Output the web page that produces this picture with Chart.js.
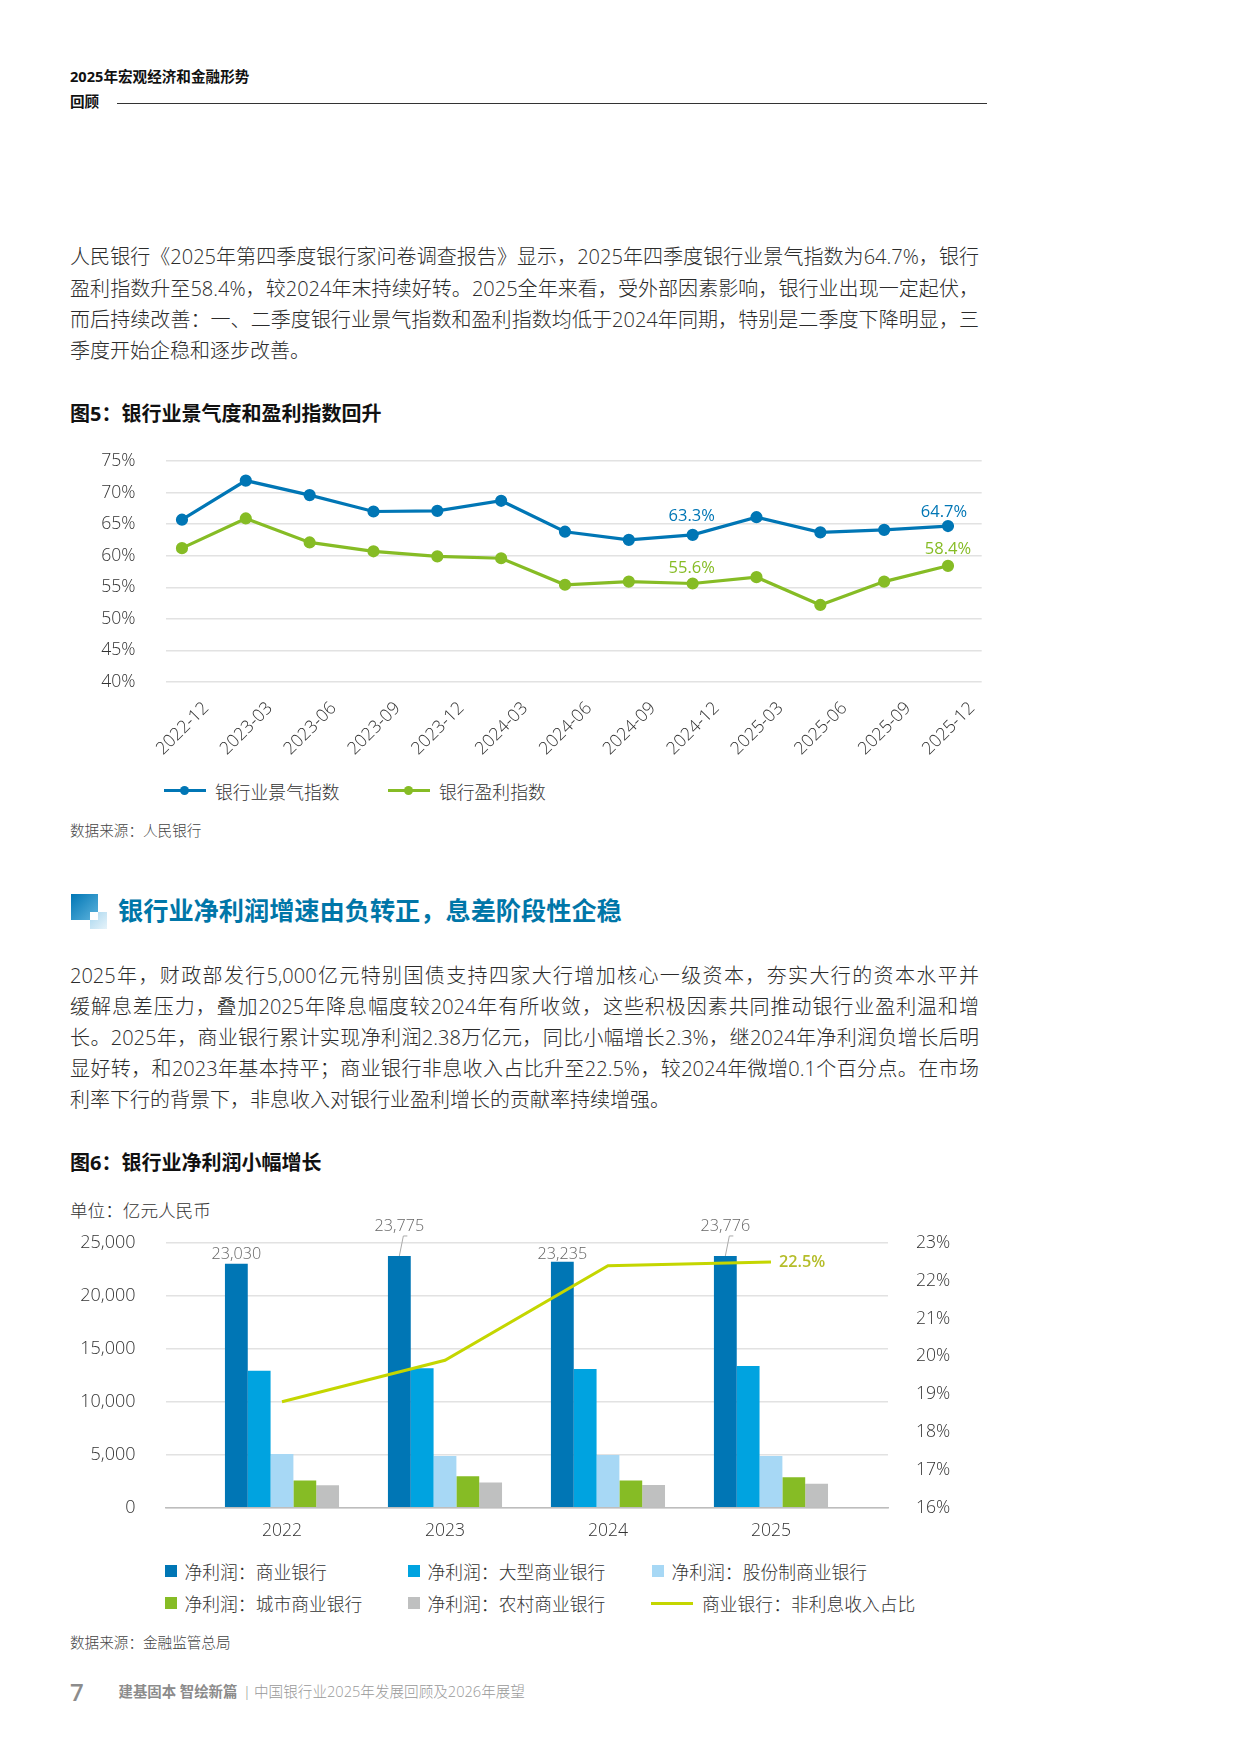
<!DOCTYPE html>
<html lang="zh-CN">
<head>
<meta charset="utf-8">
<title>银行业景气度和净利润</title>
<script src="https://cdn.jsdelivr.net/npm/chart.js@4/dist/chart.umd.js"></script>
<style>
  html, body { margin: 0; padding: 0; background: #fff; }
  body { position: relative; width: 1240px; height: 1753px; overflow: hidden; font-family: "Open Sans", "Noto Sans CJK SC", sans-serif; color: #333; }
  .t { position: absolute; left: 70px; transform: translateY(-50%); white-space: nowrap; line-height: 1.2; }
  .body { font-size: 20px; font-weight: 300; color: #2b2b2b; width: 909px; white-space: normal; text-align: justify; text-align-last: justify; }
  .body.last { text-align-last: left; }
  .fig { font-size: 20px; font-weight: 700; color: #111; }
  .src { font-size: 14.6px; font-weight: 300; color: #444; }
  canvas { position: absolute; left: 70px; }
  .legend { position: absolute; font-size: 17.8px; font-weight: 300; color: #333; }
  .item { position: absolute; display: flex; align-items: center; white-space: nowrap; transform: translateY(-50%); }
  .box { width: 12px; height: 12px; margin-right: 7.5px; }
  .ln { position: relative; width: 42px; height: 3px; margin-right: 9px; }
  .dot { position: absolute; left: 16px; top: -3px; width: 9px; height: 9px; border-radius: 50%; background: inherit; }
</style>
</head>
<body>
<div class="t" style="top:77px;font-size:14.6px;font-weight:700;color:#111">2025年宏观经济和金融形势</div>
<div class="t" style="top:102px;font-size:14.6px;font-weight:700;color:#111">回顾</div>
<div style="position:absolute;left:117px;top:103px;width:870px;height:1px;background:#333"></div>

<div class="t body" style="top:257px">人民银行《2025年第四季度银行家问卷调查报告》显示，2025年四季度银行业景气指数为64.7%，银行</div>
<div class="t body" style="top:288.5px">盈利指数升至58.4%，较2024年末持续好转。2025全年来看，受外部因素影响，银行业出现一定起伏，</div>
<div class="t body" style="top:320px">而后持续改善：一、二季度银行业景气指数和盈利指数均低于2024年同期，特别是二季度下降明显，三</div>
<div class="t body last" style="top:351px">季度开始企稳和逐步改善。</div>

<div class="t fig" style="top:414px">图5：银行业景气度和盈利指数回升</div>
<canvas id="indexChart" width="930" height="330" style="top:440px"></canvas>
<div class="legend" id="indexLegend" style="left:0;top:0"></div>
<div class="t src" style="top:831px">数据来源：人民银行</div>

<div style="position:absolute;left:71px;top:894px;width:27px;height:26px;background:linear-gradient(135deg,#0076B5,#5fb4dd)"></div>
<div style="position:absolute;left:90px;top:912px;width:17px;height:17px;background:linear-gradient(135deg,#a8d6ee,#e6f3fa)"></div>
<div style="position:absolute;left:90px;top:912px;width:8px;height:8px;background:#fff"></div>
<div class="t" style="left:118px;top:910px;font-size:25.2px;font-weight:700;color:#0076A8">银行业净利润增速由负转正，息差阶段性企稳</div>

<div class="t body" style="top:976px">2025年，财政部发行5,000亿元特别国债支持四家大行增加核心一级资本，夯实大行的资本水平并</div>
<div class="t body" style="top:1007px">缓解息差压力，叠加2025年降息幅度较2024年有所收敛，这些积极因素共同推动银行业盈利温和增</div>
<div class="t body" style="top:1038px">长。2025年，商业银行累计实现净利润2.38万亿元，同比小幅增长2.3%，继2024年净利润负增长后明</div>
<div class="t body" style="top:1069px">显好转，和2023年基本持平；商业银行非息收入占比升至22.5%，较2024年微增0.1个百分点。在市场</div>
<div class="t body last" style="top:1100px">利率下行的背景下，非息收入对银行业盈利增长的贡献率持续增强。</div>

<div class="t fig" style="top:1163px">图6：银行业净利润小幅增长</div>
<div class="t" style="top:1211px;font-size:17.6px;font-weight:300">单位：亿元人民币</div>
<canvas id="profitChart" width="930" height="350" style="top:1205px"></canvas>
<div class="legend" id="profitLegend" style="left:0;top:0"></div>
<div class="t src" style="top:1643px">数据来源：金融监管总局</div>

<div class="t" style="top:1692px;font-size:24px;font-weight:600;color:#8c8c8c">7</div>
<div class="t" style="left:118.5px;top:1692px;font-size:14.4px;font-weight:700;color:#8c8c8c">建基固本 智绘新篇</div>
<div class="t" style="left:243px;top:1692px;font-size:14.6px;font-weight:300;color:#8c8c8c">|</div>
<div class="t" style="left:254px;top:1692px;font-size:14.6px;font-weight:300;color:#999">中国银行业2025年发展回顾及2026年展望</div>

<script>
// Figure 5 data
const quarters = ['2022-12', '2023-03', '2023-06', '2023-09', '2023-12', '2024-03', '2024-06', '2024-09', '2024-12', '2025-03', '2025-06', '2025-09', '2025-12']
const sentimentIndex = [65.7, 71.9, 69.6, 67.0, 67.1, 68.7, 63.8, 62.5, 63.3, 66.1, 63.7, 64.1, 64.7]
const profitIndex = [61.2, 65.9, 62.1, 60.7, 59.9, 59.6, 55.4, 55.9, 55.6, 56.6, 52.2, 55.9, 58.4]

// Figure 6 data
const years = ['2022', '2023', '2024', '2025']
const commercialBanks = [23030, 23775, 23235, 23776]
const largeBanks = [12940, 13160, 13100, 13380]
const jointStockBanks = [5070, 4880, 4975, 4880]
const cityBanks = [2580, 2960, 2580, 2865]
const ruralBanks = [2110, 2390, 2140, 2265]
const nonInterestShare = [18.8, 19.9, 22.4, 22.5]

const BLUE = '#0076B5'
const SKY = '#00A3E0'
const PALE = '#A7D8F5'
const GREEN = '#86BC25'
const GREY = '#BFC0C0'
const LIME = '#C4D600'
const GRID = '#e2e2e2'
const FONT = '"Open Sans", "Noto Sans CJK SC", sans-serif'

Chart.defaults.font.family = FONT
Chart.defaults.font.size = 17.6
Chart.defaults.font.weight = 300
Chart.defaults.color = '#333'
Chart.defaults.animation = false
Chart.defaults.responsive = false

const toPoints = (values) => values.map((y, x) => ({ x, y }))
const indexTicks = (labels) => (scale) => {
  scale.ticks = labels.map((_, value) => ({ value }))
}
// Fixed axis width; tick padding must not leak into the plot's top margin
const fixWidth = (width) => (scale) => {
  scale.width = width
  scale.paddingTop = 0
  scale.paddingBottom = 0
}

// Percent labels beside chosen points of the line chart
const pointLabels = {
  id: 'pointLabels',
  afterDatasetsDraw(chart) {
    const ctx = chart.ctx
    const marks = [
      { ds: 0, i: 8, dx: -1, dy: -19 },
      { ds: 0, i: 12, dx: -4, dy: -14 },
      { ds: 1, i: 8, dx: -1, dy: -15 },
      { ds: 1, i: 12, dx: 0, dy: -17 }
    ]
    ctx.save()
    ctx.font = '400 16.5px ' + FONT
    ctx.textAlign = 'center'
    ctx.textBaseline = 'middle'
    marks.forEach((m) => {
      const dataset = chart.data.datasets[m.ds]
      const el = chart.getDatasetMeta(m.ds).data[m.i]
      ctx.fillStyle = dataset.borderColor
      ctx.fillText(dataset.data[m.i].y.toFixed(1) + '%', el.x + m.dx, el.y + m.dy)
    })
    ctx.restore()
  }
}

// Totals above the first bar of each group, plus the 22.5% line label
const profitLabels = {
  id: 'profitLabels',
  afterDatasetsDraw(chart) {
    const ctx = chart.ctx
    const bars = chart.getDatasetMeta(1).data
    const rise = [9, 30, 7.5, 30]
    ctx.save()
    ctx.font = '300 16.2px ' + FONT
    ctx.textAlign = 'center'
    ctx.textBaseline = 'middle'
    bars.forEach((bar, i) => {
      ctx.fillStyle = '#666'
      ctx.fillText(commercialBanks[i].toLocaleString('en-US'), bar.x, bar.y - rise[i])
      if (rise[i] > 20) {
        ctx.strokeStyle = '#aaa'
        ctx.lineWidth = 1
        ctx.beginPath()
        ctx.moveTo(bar.x, bar.y)
        ctx.lineTo(bar.x + 4, bar.y - 20)
        ctx.lineTo(bar.x + 8, bar.y - 20)
        ctx.stroke()
      }
    })
    const last = chart.getDatasetMeta(0).data[3]
    ctx.font = '600 16.2px ' + FONT
    ctx.fillStyle = '#B5BD2A'
    ctx.textAlign = 'left'
    ctx.fillText(nonInterestShare[3].toFixed(1) + '%', last.x + 8, last.y)
    ctx.restore()
  }
}

// HTML legend so items can sit in fixed columns
function buildLegend(el, chart, slots) {
  const datasets = chart.data.datasets
  slots.forEach((slot) => {
    const dataset = datasets[slot.ds]
    const item = document.createElement('div')
    item.className = 'item'
    item.style.left = slot.x + 'px'
    item.style.top = slot.y + 'px'
    const mark = document.createElement('span')
    if (dataset.type === 'line') {
      mark.className = 'ln'
      mark.style.background = dataset.borderColor
      if (dataset.pointRadius > 0) {
        const dot = document.createElement('span')
        dot.className = 'dot'
        mark.appendChild(dot)
      }
    } else {
      mark.className = 'box'
      mark.style.background = dataset.backgroundColor
    }
    item.appendChild(mark)
    item.appendChild(document.createTextNode(dataset.label))
    el.appendChild(item)
  })
}

const indexChart = new Chart(document.getElementById('indexChart'), {
  type: 'line',
  data: {
    datasets: [
      { type: 'line', label: '银行业景气指数', data: toPoints(sentimentIndex), borderColor: BLUE, backgroundColor: BLUE, borderWidth: 3.2, pointRadius: 4.5, tension: 0 },
      { type: 'line', label: '银行盈利指数', data: toPoints(profitIndex), borderColor: GREEN, backgroundColor: GREEN, borderWidth: 3.2, pointRadius: 4.5, tension: 0 }
    ]
  },
  options: {
    layout: { padding: { top: 21, right: 18.3 } },
    plugins: { legend: { display: false }, tooltip: { enabled: false } },
    scales: {
      x: {
        type: 'linear',
        min: -0.258,
        max: 12.528,
        afterBuildTicks: indexTicks(quarters),
        afterFit: (scale) => { scale.height = 88 },
        grid: { display: false },
        border: { display: false },
        ticks: {
          autoSkip: false,
          minRotation: 45,
          maxRotation: 45,
          padding: 8,
          labelOffset: 24,
          callback: (value) => quarters[value]
        }
      },
      y: {
        min: 40,
        max: 75,
        afterFit: fixWidth(95.5),
        grid: { color: GRID, lineWidth: 1.5, drawTicks: false },
        border: { display: false },
        ticks: { stepSize: 5, padding: 30, callback: (value) => value + '%' }
      }
    }
  },
  plugins: [pointLabels]
})

const profitChart = new Chart(document.getElementById('profitChart'), {
  data: {
    datasets: [
      { type: 'line', label: '商业银行：非利息收入占比', data: toPoints(nonInterestShare), yAxisID: 'y1', borderColor: LIME, borderWidth: 3, pointRadius: 0, tension: 0, order: 0 },
      { type: 'bar', label: '净利润：商业银行', data: toPoints(commercialBanks), backgroundColor: BLUE, order: 1 },
      { type: 'bar', label: '净利润：大型商业银行', data: toPoints(largeBanks), backgroundColor: SKY, order: 1 },
      { type: 'bar', label: '净利润：股份制商业银行', data: toPoints(jointStockBanks), backgroundColor: PALE, order: 1 },
      { type: 'bar', label: '净利润：城市商业银行', data: toPoints(cityBanks), backgroundColor: GREEN, order: 1 },
      { type: 'bar', label: '净利润：农村商业银行', data: toPoints(ruralBanks), backgroundColor: GREY, order: 1 }
    ]
  },
  options: {
    layout: { padding: { top: 38 } },
    plugins: { legend: { display: false }, tooltip: { enabled: false } },
    datasets: { bar: { barPercentage: 1, categoryPercentage: 0.7 } },
    scales: {
      x: {
        type: 'linear',
        offset: false,
        min: -0.7147,
        max: 3.718,
        afterBuildTicks: indexTicks(years),
        afterFit: (scale) => { scale.height = 47.3 },
        grid: { display: false, offset: false, drawTicks: false },
        border: { color: '#bdbdbd', width: 1.5 },
        ticks: { autoSkip: false, maxRotation: 0, padding: 13, callback: (value) => years[value] }
      },
      y: {
        min: 0,
        max: 25000,
        afterFit: fixWidth(95.5),
        grid: { color: GRID, lineWidth: 1.5, drawTicks: false },
        border: { display: false },
        ticks: { stepSize: 5000, padding: 30, font: { size: 18 }, callback: (value) => value.toLocaleString('en-US') }
      },
      y1: {
        position: 'right',
        min: 16,
        max: 23,
        afterFit: fixWidth(112),
        grid: { display: false, drawTicks: false },
        border: { display: false },
        ticks: { stepSize: 1, padding: 28, callback: (value) => value + '%' }
      }
    }
  },
  plugins: [profitLabels]
})

buildLegend(document.getElementById('indexLegend'), indexChart, [
  { ds: 0, x: 164, y: 790.5 },
  { ds: 1, x: 388, y: 790.5 }
])
buildLegend(document.getElementById('profitLegend'), profitChart, [
  { ds: 1, x: 165, y: 1570.5 },
  { ds: 2, x: 408, y: 1570.5 },
  { ds: 3, x: 652, y: 1570.5 },
  { ds: 4, x: 165, y: 1603 },
  { ds: 5, x: 408, y: 1603 },
  { ds: 0, x: 651, y: 1603 }
])
</script>
</body>
</html>
